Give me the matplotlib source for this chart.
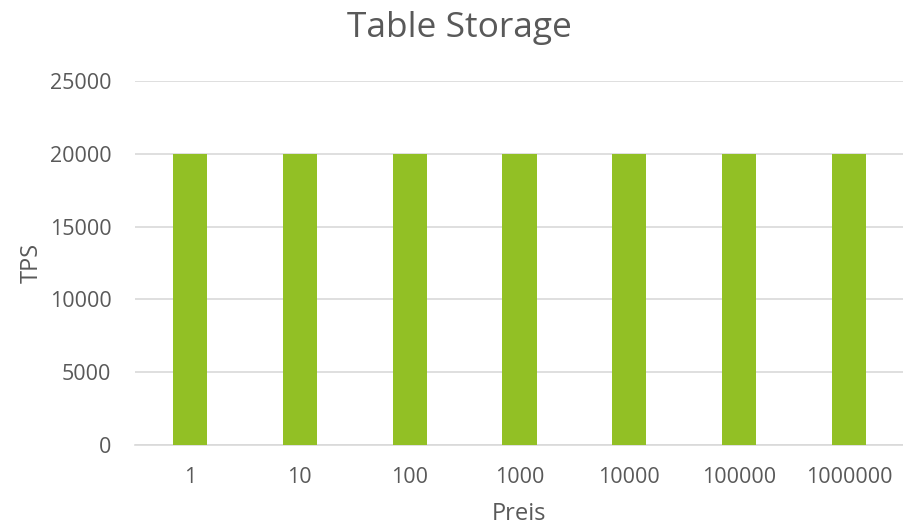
import matplotlib.pyplot as plt

categories = ['1', '10', '100', '1000', '10000', '100000', '1000000']
tps = [20000, 20000, 20000, 20000, 20000, 20000, 20000]
yticks = [0, 5000, 10000, 15000, 20000, 25000]

plt.rcParams['font.family'] = ['Open Sans', 'DejaVu Sans']
text_color = '#595959'

fig = plt.figure(figsize=(9.04, 5.27), dpi=100)
ax = fig.add_axes([135 / 904, 1 - 445 / 527, 769 / 904, (445 - 81) / 527])

x = range(len(categories))
ax.bar(x, tps, width=0.31, color='#92c025', zorder=3)

ax.set_xlim(-0.5, len(categories) - 0.5)
ax.set_ylim(0, 25000)
ax.set_yticks(yticks)
ax.set_xticks(list(x))
ax.set_xticklabels(categories)
ax.grid(axis='y', color='#d9d9d9', linewidth=1.2, zorder=0)
ax.set_axisbelow(True)

for side in ['top', 'right', 'left']:
    ax.spines[side].set_visible(False)
ax.spines['bottom'].set_color('#d9d9d9')
ax.spines['bottom'].set_linewidth(1.2)

ax.tick_params(length=0, labelsize=15.5, colors=text_color)
ax.tick_params(axis='x', pad=16)
ax.tick_params(axis='y', pad=17)

ax.set_xlabel('Preis', fontsize=17, color=text_color, labelpad=10)
ax.set_ylabel('TPS', fontsize=17, color=text_color, labelpad=4)
fig.text(0.508, 1 - 28 / 527, 'Table Storage', fontsize=25.5, color=text_color,
         ha='center', va='center')

fig.savefig('out.png', dpi=100)
